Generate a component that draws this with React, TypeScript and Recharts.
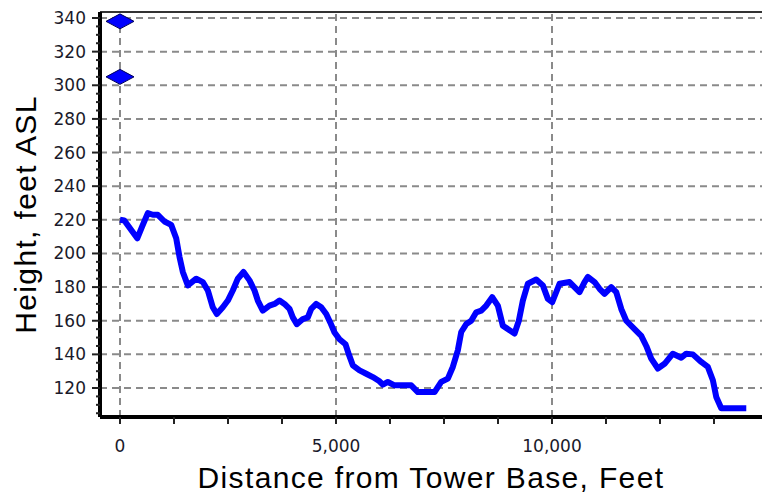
import React from 'react';
import { ComposedChart, Line, Scatter, XAxis, YAxis, ReferenceLine, Label } from 'recharts';

const distances = [0,100,260,400,528,644,759,875,1030,1185,1301,1377,1454,1570,1764,1917,2033,2148,2241,2380,2496,2611,2727,2859,2998,3114,3190,3306,3461,3577,3692,3808,3924,4000,4093,4232,4348,4426,4542,4658,4774,4866,4966,5081,5220,5297,5389,5545,5700,5852,6007,6084,6200,6355,6741,6894,7281,7436,7589,7704,7820,7899,8015,8130,8246,8362,8478,8616,8746,8862,9017,9133,9232,9325,9440,9635,9788,9904,10005,10174,10406,10521,10637,10753,10830,10985,11101,11216,11371,11487,11603,11719,11911,12066,12182,12297,12450,12605,12797,12992,13107,13260,13455,13608,13724,13802,13918,14497];
const heights = [220,219.6,214,209,217,224,223,223,219,217,209,198,189,181,185,183,178,168,164,168,172,178,185,189,184,178,172,166,169,170,172,170,167,162,158,161,162,167,170,168,164,159,153,149,146,140,133.5,130.5,128.5,126.5,124,122,123.6,121.6,121.6,117.6,117.6,123.6,125.6,132.5,142.4,153.3,158,160,165,166,169,174,169,157,154.4,152.4,160,172,182,184.5,181,173,171,182,183,180,177,183,186,183,179,176,180,177,167,160,155,151,145,137.5,131.6,134.4,140.4,138,140.4,140,135.5,132.5,124.6,114.7,108,108];

const markerDistances = [0, 0];
const markerHeights = [338, 305];

const xDomain = [-463, 14861];
const yDomain = [102.76, 343.57];
const xGridValues = [0, 5000, 10000];
const xTickValues = [0,1250,2500,3750,5000,6250,7500,8750,10000,11250,12500,13750];
const yGridValues = [120,140,160,180,200,220,240,260,280,300,320,340];
const yTickValues = Array.from({ length: 48 }, (_, i) => 105 + i * 5);

const profile = distances.map((d, i) => ({ d, h: heights[i] }));
const markers = markerDistances.map((d, i) => ({ d, h: markerHeights[i] }));

const fmt = (v: number) => v.toLocaleString('en-US');

const XTick = (props: any) => {
  const { x, y, payload } = props;
  const v = payload.value;
  const major = v % 5000 === 0;
  return (
    <g>
      <line x1={x} x2={x} y1={y} y2={y + 7} stroke="#222" strokeWidth={2} />
      {major && (
        <text x={x} y={y + 35} textAnchor="middle" fontFamily="'DejaVu Sans'" fontSize={17} fill="#1a1a2a">
          {fmt(v)}
        </text>
      )}
    </g>
  );
};

const YTick = (props: any) => {
  const { x, y, payload } = props;
  const v = payload.value;
  const major = v % 20 === 0;
  return (
    <g>
      <line x1={x - (major ? 8 : 4)} x2={x} y1={y} y2={y} stroke="#222" strokeWidth={2} />
      {major && (
        <text x={x - 14} y={y + 6} textAnchor="end" fontFamily="'DejaVu Sans'" fontSize={17} fill="#1a1a2a">
          {v}
        </text>
      )}
    </g>
  );
};

const Diamond = (props: any) => {
  const { cx, cy } = props;
  const w = 14, h = 7.5;
  return (
    <polygon
      points={`${cx - w},${cy} ${cx},${cy - h} ${cx + w},${cy} ${cx},${cy + h}`}
      fill="#0000ff"
      stroke="#00005a"
      strokeWidth={1}
    />
  );
};

const titleStyle = { fontFamily: "'Liberation Sans', Arial, sans-serif", fontSize: 30, letterSpacing: 1.35, fill: '#000' };

export default function App() {
  return (
    <div style={{ position: 'absolute', left: 0, top: 0, width: 762, height: 503, background: '#fff' }}>
      <ComposedChart width={762} height={503} margin={{ top: 12, right: 0, bottom: 0, left: 0 }}>
        <XAxis
          type="number"
          dataKey="d"
          domain={xDomain}
          ticks={xTickValues}
          interval={0}
          height={86}
          tickSize={0}
          tickMargin={0}
          tickLine={false}
          tick={<XTick />}
          axisLine={{ stroke: '#000', strokeWidth: 4 }}
          allowDataOverflow
        >
          <Label
            content={(p: any) => {
              const vb = p.viewBox;
              return (
                <text x={vb.x + vb.width / 2} y={vb.y + 71} textAnchor="middle" style={titleStyle}>
                  Distance from Tower Base, Feet
                </text>
              );
            }}
          />
        </XAxis>
        <YAxis
          type="number"
          domain={yDomain}
          ticks={yTickValues}
          interval={0}
          width={100}
          tickSize={0}
          tickMargin={0}
          tickLine={false}
          tick={<YTick />}
          axisLine={{ stroke: '#000', strokeWidth: 4 }}
          allowDataOverflow
        >
          <Label
            content={(p: any) => {
              const vb = p.viewBox;
              const cx = 36;
              const cy = vb.y + vb.height / 2;
              return (
                <text x={cx} y={cy} textAnchor="middle" transform={`rotate(-90, ${cx}, ${cy})`} style={titleStyle}>
                  Height, feet ASL
                </text>
              );
            }}
          />
        </YAxis>
        {yGridValues.map((v) => (
          <ReferenceLine key={'h' + v} y={v} stroke="#8a8a8a" strokeWidth={2} strokeDasharray="7 5" />
        ))}
        {xGridValues.map((v) => (
          <ReferenceLine key={'v' + v} x={v} stroke="#8a8a8a" strokeWidth={2} strokeDasharray="7 5" />
        ))}
        <ReferenceLine y={yDomain[1]} stroke="#333" strokeWidth={2} />
        <Line
          data={profile}
          dataKey="h"
          type="linear"
          stroke="#0000ff"
          strokeWidth={6}
          strokeLinejoin="round"
          dot={false}
          activeDot={false}
          isAnimationActive={false}
        />
        <Scatter data={markers} dataKey="h" shape={<Diamond />} isAnimationActive={false} />
      </ComposedChart>
    </div>
  );
}
